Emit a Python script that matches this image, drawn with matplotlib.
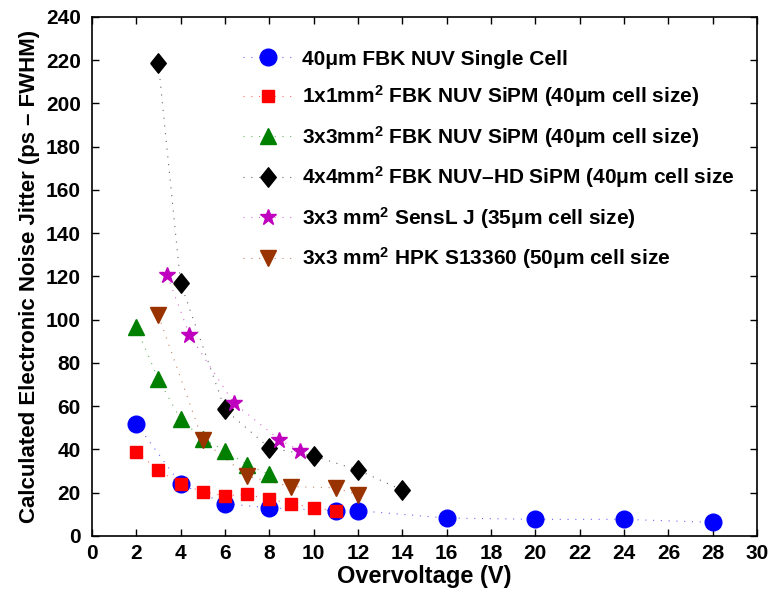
import matplotlib
matplotlib.use("Agg")
import matplotlib.pyplot as plt

plt.rcParams['font.family'] = ['Liberation Sans', 'DejaVu Sans']
plt.rcParams['font.weight'] = 'bold'
plt.rcParams['mathtext.fontset'] = 'custom'
plt.rcParams['mathtext.rm'] = 'Liberation Sans:bold'
plt.rcParams['mathtext.bf'] = 'Liberation Sans:bold'
plt.rcParams['mathtext.default'] = 'bf'

# data
single_x = [2, 4, 6, 8, 11, 12, 16, 20, 24, 28]
single_y = [52, 24, 15, 13, 11.7, 11.7, 8.3, 7.7, 7.7, 6.3]

fbk1_x = [2, 3, 4, 5, 6, 7, 8, 9, 10, 11]
fbk1_y = [39, 30.5, 24, 20.5, 18.6, 19.2, 17, 15, 13, 11.7]

fbk3_x = [2, 3, 4, 5, 6, 7, 8]
fbk3_y = [96.5, 72.5, 54, 45, 39.5, 33, 28.5]

hd4_x = [3, 4, 6, 8, 10, 12, 14]
hd4_y = [218.5, 117, 58.5, 40.8, 37, 30.5, 21.2]

sensl_x = [3.4, 4.4, 6.4, 8.45, 9.4]
sensl_y = [120.5, 93, 61.5, 44.6, 39.4]

hpk_x = [3, 5, 7, 9, 11, 12]
hpk_y = [102, 44.3, 27.7, 22.8, 22.3, 19]

labels = [
    "40μm FBK NUV Single Cell",
    "1x1mm$^2$ FBK NUV SiPM (40μm cell size)",
    "3x3mm$^2$ FBK NUV SiPM (40μm cell size)",
    "4x4mm$^2$ FBK NUV–HD SiPM (40μm cell size",
    "3x3 mm$^2$ SensL J (35μm cell size)",
    "3x3 mm$^2$ HPK S13360 (50μm cell size",
]

# slightly narrow diamond like the MATLAB one
diamond = [(-0.4, 0), (0, 0.5), (0.4, 0), (0, -0.5), (-0.4, 0)]

fig = plt.figure(figsize=(7.72, 5.96), dpi=100)
ax = fig.add_axes([0.119, 0.1007, 0.8617, 0.8708])

series = [
    (single_x, single_y, 'o', (0, 0, 1), 12),
    (fbk1_x, fbk1_y, 's', (1, 0, 0), 9),
    (fbk3_x, fbk3_y, '^', (0, 0.5, 0), 12),
    (hd4_x, hd4_y, diamond, (0, 0, 0), 14),
    (sensl_x, sensl_y, '*', (0.75, 0, 0.75), 12),
    (hpk_x, hpk_y, 'v', (0.6, 0.2, 0), 12),
]
for (x, y, m, c, ms), lab in zip(series, labels):
    ax.plot(x, y, linestyle=(0, (1, 6)), color=c + (0.6,), lw=0.8,
            marker=m, ms=ms, mec=c, mfc=c, label=lab)

ax.set_xlim(0, 30)
ax.set_ylim(0, 240)
ax.set_xticks(range(0, 31, 2))
ax.set_yticks(range(0, 241, 20))
ax.tick_params(direction='in', top=True, right=True, length=5,
               labelsize=15, width=1)
ax.tick_params(axis='x', pad=6)
ax.tick_params(axis='y', pad=8)
for lbl in ax.get_xticklabels() + ax.get_yticklabels():
    lbl.set_fontweight('bold')
for s in ax.spines.values():
    s.set_linewidth(1.2)

ax.set_xlabel("Overvoltage (V)", fontsize=17, fontweight='bold', labelpad=1)
ax.set_ylabel("Calculated Electronic Noise Jitter (ps – FWHM)", fontsize=16,
              fontweight='bold', labelpad=4)

leg = ax.legend(loc='upper left', bbox_to_anchor=(0.214, 0.953),
                frameon=False, fontsize=15, handlelength=2.4,
                labelspacing=0.7, handletextpad=0.45, borderaxespad=0)

fig.savefig("out.png", dpi=100)
